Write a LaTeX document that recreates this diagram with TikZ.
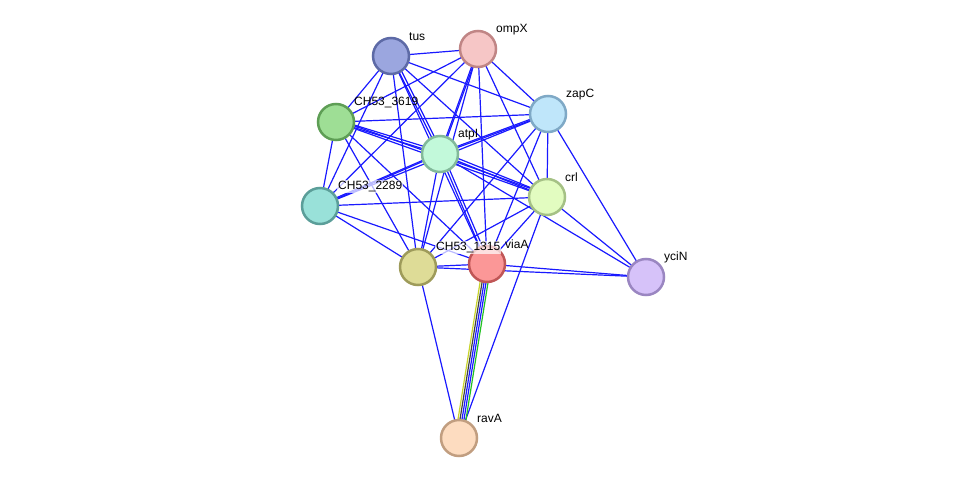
\documentclass[tikz,border=0pt]{standalone}
\usepackage{fontspec}
\setmainfont{Liberation Sans}
\usepackage{tikz}
\usetikzlibrary{backgrounds}

\definecolor{tusF}{HTML}{9BA6DF}\definecolor{tusD}{HTML}{5D6AA6}
\definecolor{ompF}{HTML}{F6C6C6}\definecolor{ompD}{HTML}{C08585}
\definecolor{zapF}{HTML}{BFE6FA}\definecolor{zapD}{HTML}{7FA9C6}
\definecolor{chaF}{HTML}{9EDE95}\definecolor{chaD}{HTML}{5E9E55}
\definecolor{atpF}{HTML}{C2F9DA}\definecolor{atpD}{HTML}{82B99A}
\definecolor{crlF}{HTML}{E2FCC0}\definecolor{crlD}{HTML}{A5C185}
\definecolor{chbF}{HTML}{99E1D9}\definecolor{chbD}{HTML}{5B9E99}
\definecolor{chcF}{HTML}{DEDC97}\definecolor{chcD}{HTML}{9E9B5A}
\definecolor{viaF}{HTML}{FB9797}\definecolor{viaD}{HTML}{C05656}
\definecolor{yciF}{HTML}{D6C2F9}\definecolor{yciD}{HTML}{9A86C1}
\definecolor{ravF}{HTML}{FDDCC0}\definecolor{ravD}{HTML}{C19E80}
\definecolor{evYel}{HTML}{C8D42B}
\definecolor{evGrn}{HTML}{22C022}

\begin{document}
\begin{tikzpicture}[x=1pt, y=-1pt,
    protein/.style={circle, minimum size=36pt, inner sep=0pt, line width=2.5pt},
    plabel/.style={anchor=west, inner sep=1pt, font=\fontsize{12}{14}\selectfont},
    edge/.style={draw=blue!90!white, line width=1.2pt}]

    % canvas
    \useasboundingbox (0,0) rectangle (976,484);

    % Proteins
    \node[protein, fill=tusF, draw=tusD] (tus)  at (391,56)  {};
    \node[protein, fill=ompF, draw=ompD] (ompX) at (478,49)  {};
    \node[protein, fill=zapF, draw=zapD] (zapC) at (548,114) {};
    \node[protein, fill=chaF, draw=chaD] (ch3619) at (336,122) {};
    \node[protein, fill=atpF, draw=atpD] (atpI) at (440,154) {};
    \node[protein, fill=crlF, draw=crlD] (crl)  at (547,197) {};
    \node[protein, fill=chbF, draw=chbD] (ch2289) at (320,206) {};
    \node[protein, fill=chcF, draw=chcD] (ch1315) at (418,267) {};
    \node[protein, fill=viaF, draw=viaD] (viaA) at (487,264) {};
    \node[protein, fill=yciF, draw=yciD] (yciN) at (646,277) {};
    \node[protein, fill=ravF, draw=ravD] (ravA) at (459,438) {};

    % Labels
    \node[plabel] (tusL)    at (408,36.5)  {tus};
    \node[plabel] (ompXL)   at (495,29.5)  {ompX};
    \node[plabel] (zapCL)   at (565,94.5)  {zapC};
    \node[plabel] (ch3619L) at (353,102.5) {CH53\_3619};
    \node[plabel] (atpIL)   at (457,134.5) {atpI};
    \node[plabel] (crlL)    at (564,177.5) {crl};
    \node[plabel, fill=white, fill opacity=0.7, text opacity=1] (ch2289L) at (337,186.5) {CH53\_2289};
    \node[plabel, fill=white, fill opacity=0.7, text opacity=1] (ch1315L) at (435,247.5) {CH53\_1315};
    \node[plabel] (viaAL)   at (504,244.5) {viaA};
    \node[plabel] (yciNL)   at (663,257.5) {yciN};
    \node[plabel] (ravAL)   at (476,418.5) {ravA};

    % Interactions
    \begin{pgfonlayer}{background}
      \foreach \a/\b in {tus/ompX, tus/zapC, tus/ch3619, tus/ch2289, tus/atpI,
          tus/crl, tus/ch1315, tus/viaA,
          ompX/zapC, ompX/crl, ompX/ch3619, ompX/ch2289, ompX/atpI,
          ompX/ch1315, ompX/viaA,
          zapC/ch3619, zapC/atpI, zapC/ch2289, zapC/crl, zapC/ch1315,
          zapC/viaA, zapC/yciN,
          ch3619/ch2289, ch3619/atpI, ch3619/crl, ch3619/ch1315, ch3619/viaA,
          atpI/ch2289, atpI/crl, atpI/ch1315, atpI/viaA, atpI/yciN,
          crl/ch2289, crl/ch1315, crl/viaA, crl/yciN, crl/ravA,
          ch2289/ch1315, ch2289/viaA,
          ch1315/viaA, ch1315/yciN, ch1315/ravA,
          viaA/yciN}
        \draw[edge] (\a.center) -- (\b.center);
      % second line of the doubled edges
      \foreach \a/\b in {tus/atpI, ompX/atpI, zapC/atpI, ch3619/atpI,
          ch3619/crl, atpI/ch2289, atpI/crl, atpI/viaA}
        \draw[edge, transform canvas={shift={(2,-2)}}] (\a.center) -- (\b.center);
      % viaA -- ravA, several evidence channels
      \draw[evYel, line width=1.2pt, transform canvas={shift={(-4,0)}}] (viaA.center) -- (ravA.center);
      \draw[black!75, line width=1.2pt, transform canvas={shift={(-2,0)}}] (viaA.center) -- (ravA.center);
      \draw[edge] (viaA.center) -- (ravA.center);
      \draw[edge, transform canvas={shift={(2,0)}}] (viaA.center) -- (ravA.center);
      \draw[evGrn, line width=1.2pt, transform canvas={shift={(4,0)}}] (viaA.center) -- (ravA.center);
    \end{pgfonlayer}

\end{tikzpicture}
\end{document}
